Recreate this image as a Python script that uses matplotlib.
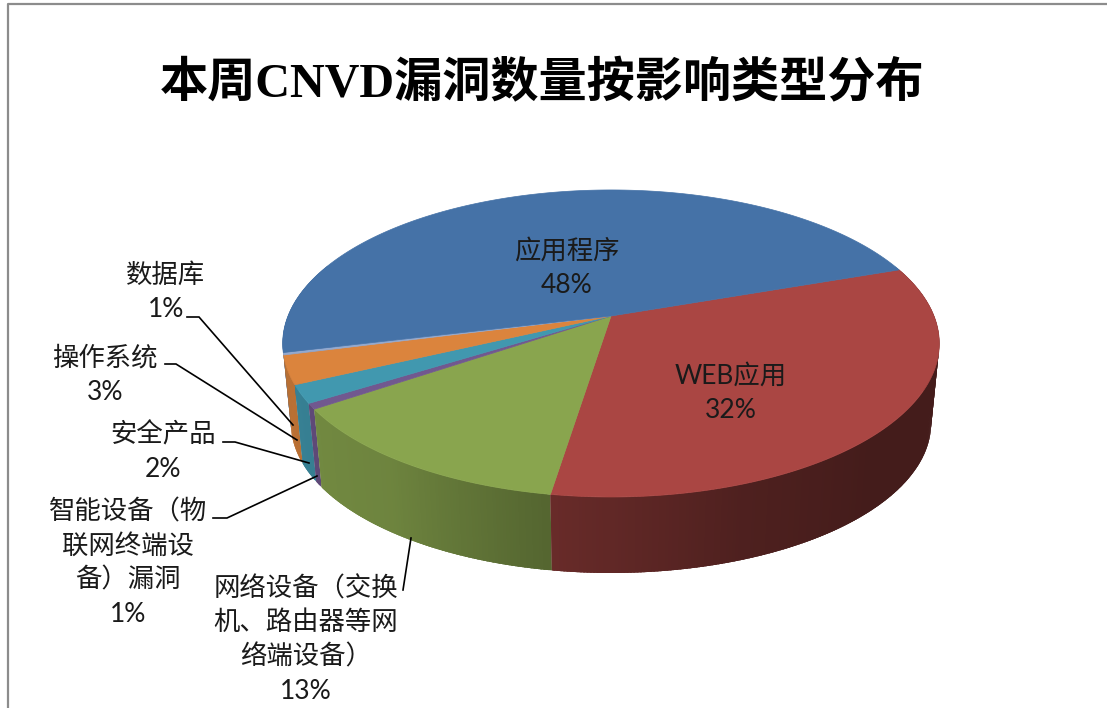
import numpy as np
import matplotlib
matplotlib.use("Agg")
import matplotlib.pyplot as plt
from matplotlib.patches import Polygon

# share of each slice, clockwise starting from the WEB slice
categories = ["WEB应用", "网络设备", "智能设备", "安全产品", "操作系统", "数据库", "应用程序"]
values = [32.8, 13.0, 0.6, 1.9, 3.0, 0.25, 48.45]
colors = ["#AA4643", "#89A54E", "#71588F", "#4198AF", "#DB843D", "#93A9CF", "#4572A7"]

title_text = "本周CNVD漏洞数量按影响类型分布"
label_texts = [
    "应用程序\n48%",
    "WEB应用\n32%",
    "网络设备（交换\n机、路由器等网\n络端设备）\n13%",
    "智能设备（物\n联网终端设\n备）漏洞\n1%",
    "安全产品\n2%",
    "操作系统\n3%",
    "数据库\n1%",
]
label_pos = [(567, 268), (731, 393), (306, 640), (128, 563), (163, 452), (105, 375), (166, 292)]
leaders = [
    [(403, 590), (411, 538)],
    [(213, 518), (227, 518), (317, 476)],
    [(223, 442), (235, 442), (309, 463)],
    [(165, 364), (176, 364), (297, 440)],
    [(187, 317), (199, 317), (293, 425)],
]

FONT = ["Lato", "Noto Sans CJK SC"]
APEX_X, APEX_Y = 611, 316
RX, RY, TILT = 323.0, 148.6, 0.179
START = 19.2
WALL_DROP, WALL_SCALE = 80.5, 0.975


def project(deg, scale=1.0, drop=0.0):
    t = np.radians(deg)
    w = 1 + TILT * np.sin(t)
    return (APEX_X + scale * RX * np.cos(t) / w,
            APEX_Y + drop - scale * RY * np.sin(t) / w)


def wall_shade(deg):
    # how much darker the side gets, left to right along the front
    return np.interp(deg, [-200, -165, -125, -99, -70, -45, 30],
                     [0.86, 0.86, 0.8, 0.62, 0.46, 0.4, 0.4])


fig = plt.figure(figsize=(11.07, 7.08), dpi=100)
ax = fig.add_axes([0, 0, 1, 1])
ax.set_xlim(0, 1107)
ax.set_ylim(708, 0)
ax.axis("off")

ax.plot([8, 8, 1107], [708, 4, 4], color="#8c8c8c", lw=1.6)

ends = START - np.cumsum(values) * 3.6
starts = np.r_[START, ends[:-1]]

# side wall, built from narrow overlapping strips so the shading varies along the arc
strips = []
for a0, a1, c in zip(starts, ends, colors):
    angles = np.linspace(a0, a1, max(int((a0 - a1) * 2), 2) + 1)
    for p, q in zip(angles[:-1], angles[1:]):
        strips.append((p, q, a1, c))

# back of the pie first, so the front strips hide what is behind them
strips.sort(key=lambda s: -np.sin(np.radians((s[0] + s[1]) / 2)))
for p, q, a1, c in strips:
    mid = (p + q) / 2
    if np.sin(np.radians(mid)) > 0.35:
        continue
    arc = np.linspace(p, max(q - 0.8, a1), 4)
    tx, ty = project(arc)
    bx, by = project(arc[::-1], WALL_SCALE, WALL_DROP)
    pts = np.c_[np.r_[tx, bx], np.r_[ty, by]]
    col = np.array(matplotlib.colors.to_rgb(c)) * wall_shade(mid)
    ax.add_patch(Polygon(pts, closed=True, facecolor=col, edgecolor="none"))

# top face
for a0, a1, c in zip(starts, ends, colors):
    angles = np.linspace(a0, a1, max(int((a0 - a1) * 2), 2) + 1)
    x, y = project(angles)
    pts = np.r_[[[APEX_X, APEX_Y]], np.c_[x, y]]
    ax.add_patch(Polygon(pts, closed=True, facecolor=c, edgecolor=c, lw=0.5))

for line in leaders:
    xs, ys = zip(*line)
    ax.plot(xs, ys, color="black", lw=1.2, solid_joinstyle="miter")

for txt, (x, y) in zip(label_texts, label_pos):
    ax.text(x, y, txt, ha="center", va="center", fontsize=19, family=FONT,
            color="#1a1a1a", linespacing=1.46, multialignment="center")

ax.text(542, 84, title_text, ha="center", va="center", fontsize=34.7,
        family=["Liberation Serif", "Noto Sans CJK SC"], weight="bold", color="black")

fig.savefig("out.png", dpi=100)
